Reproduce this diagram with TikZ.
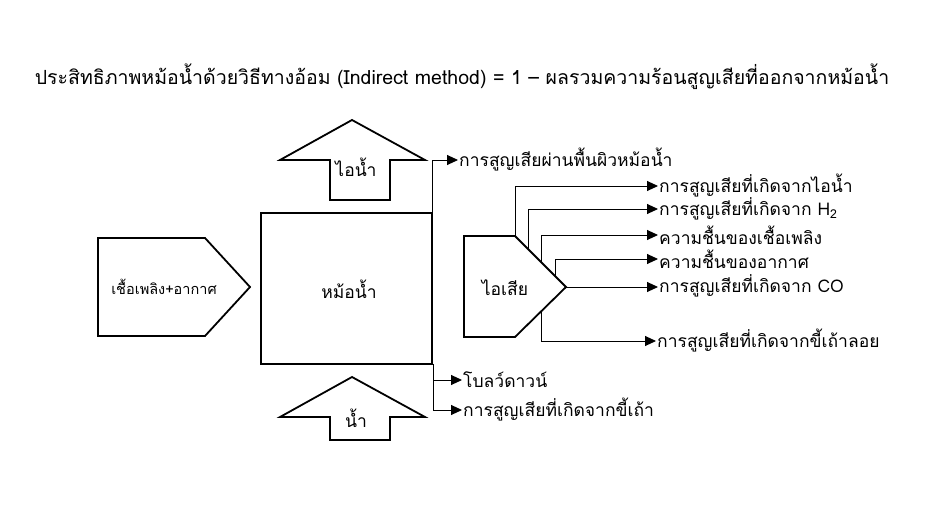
\documentclass[tikz,border=0pt]{standalone}
\usepackage{fontspec}
\setmainfont[Script=Thai]{Loma}
\usetikzlibrary{arrows.meta}
\begin{document}
\begin{tikzpicture}[x=1pt,y=-1pt,
 shp/.style={draw,line width=1.8pt,fill=white},
 con/.style={draw,line width=0.9pt,-{Triangle[length=11pt,width=10pt]}},
 lbl/.style={anchor=west,inner sep=1pt,font=\fontsize{17.5}{20}\selectfont},
 txt/.style={font=\fontsize{17.5}{20}\selectfont}]
\fill[white] (0,0) rectangle (945,510);
\node[font=\fontsize{19.5}{22}\selectfont] (title) at (462,77) {ประสิทธิภาพหม้อน้ำด้วยวิธีทางอ้อม (Indirect method) = 1 – ผลรวมความร้อนสูญเสียที่ออกจากหม้อน้ำ};
% boiler
\draw[shp] (261,213) rectangle (432,364);
\node[txt] (boiler) at (349,289) {หม้อน้ำ};
% steam
\draw[shp] (330,200) -- (330,160) -- (280,160) -- (352,120) -- (425,160) -- (390,160) -- (390,200) -- cycle;
\node[txt] (steam) at (356,167) {ไอน้ำ};
% water
\draw[shp] (330,440) -- (330,417) -- (280,417) -- (352,377) -- (425,417) -- (390,417) -- (390,440) -- cycle;
\node[txt] (water) at (356,418) {น้ำ};
% input
\draw[shp] (98,238) -- (205,238) -- (250,287) -- (205,336) -- (98,336) -- cycle;
\node[font=\fontsize{14.5}{17}\selectfont] (input) at (164,287) {เชื้อเพลิง+อากาศ};
% flue gas
\draw[shp] (464,236) -- (515,236) -- (566,287) -- (515,337) -- (464,337) -- cycle;
\node[txt] (flue) at (505,288) {ไอเสีย};
% labels
\node[lbl] (l0) at (458,160) {การสูญเสียผ่านพื้นผิวหม้อน้ำ};
\node[lbl] (l1) at (658,186) {การสูญเสียที่เกิดจากไอน้ำ};
\node[lbl] (l2) at (658,209) {การสูญเสียที่เกิดจาก H\textsubscript{2}};
\node[lbl] (l3) at (658,235) {ความชื้นของเชื้อเพลิง};
\node[lbl] (l4) at (658,259) {ความชื้นของอากาศ};
\node[lbl] (l5) at (658,286) {การสูญเสียที่เกิดจาก CO};
\node[lbl] (l6) at (656,341) {การสูญเสียที่เกิดจากขี้เถ้าลอย};
\node[lbl] (l7) at (462,380) {โบลว์ดาวน์};
\node[lbl] (l8) at (462,410) {การสูญเสียที่เกิดจากขี้เถ้า};
% connectors
\coordinate (b0) at (432,213); \coordinate (b1) at (433,364);
\draw[con] (b0) |- (l0.west);
\draw[con] (b1) |- (l7.west);
\draw[con] (b1) |- (l8.west);
\coordinate (f1) at (515,236); \coordinate (f2) at (528,249);
\coordinate (f3) at (541,262); \coordinate (f4) at (555,276);
\coordinate (f5) at (566,287); \coordinate (f6) at (541,312);
\draw[con] (f1) |- (l1.west);
\draw[con] (f2) |- (l2.west);
\draw[con] (f3) |- (l3.west);
\draw[con] (f4) |- (l4.west);
\draw[con] (f5) -- (f5 -| l5.west);
\draw[con] (f6) |- (l6.west);
\end{tikzpicture}
\end{document}
